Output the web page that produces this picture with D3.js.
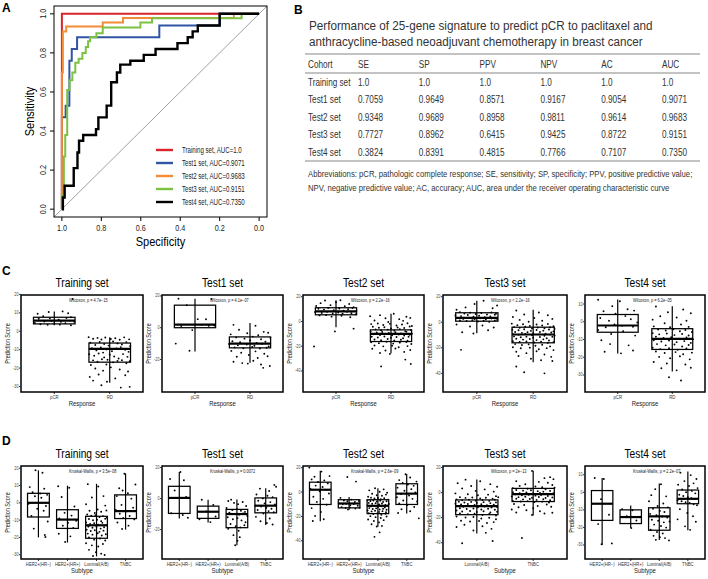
<!DOCTYPE html>
<html>
<head>
<meta charset="utf-8">
<script src="https://cdn.jsdelivr.net/npm/d3@7"></script>
<style>
body { margin: 0; background: #fff; }
svg { display: block; font-family: "Liberation Sans", Arial, sans-serif; }
</style>
</head>
<body>
<svg id="fig" width="708" height="579"></svg>
<script>
// ---------- panel A: ROC curves (specificity, sensitivity) ----------
const rocNames = ["Training set, AUC=1.0", "Test1 set, AUC=0.9071", "Test2 set, AUC=0.9683", "Test3 set, AUC=0.9151", "Test4 set, AUC=0.7350"];
const rocColors = ["#d9262a", "#2f55a4", "#f28c38", "#7cc242", "#000000"];
const rocTraining = [[1, 0], [1, 1], [0, 1]];
const rocTest1 = [[1, 0], [1, 0.47], [0.981, 0.53], [0.962, 0.76], [0.95, 0.82], [0.923, 0.88], [0.506, 0.94], [0.2, 1], [0, 1]];
const rocTest2 = [[1, 0], [1, 0.70], [0.995, 0.91], [0.978, 0.935], [0.793, 0.956], [0.69, 0.978], [0.128, 1], [0, 1]];
const rocTest3 = [[1, 0], [1, 0.07], [0.99, 0.27], [0.983, 0.38], [0.973, 0.61], [0.961, 0.66], [0.947, 0.70], [0.932, 0.75], [0.915, 0.77], [0.896, 0.80], [0.879, 0.83], [0.867, 0.86], [0.857, 0.88], [0.825, 0.90], [0.793, 0.93], [0.602, 0.955], [0.543, 0.977], [0.089, 1], [0, 1]];
const rocTest4 = [[1, 0], [0.995, 0.06], [0.986, 0.12], [0.94, 0.21], [0.921, 0.29], [0.913, 0.35], [0.892, 0.38], [0.827, 0.41], [0.815, 0.47], [0.773, 0.53], [0.75, 0.65], [0.721, 0.70], [0.704, 0.74], [0.653, 0.76], [0.585, 0.79], [0.525, 0.82], [0.414, 0.85], [0.362, 0.88], [0.337, 0.91], [0.311, 0.94], [0.2, 1], [0, 1]];
const rocTicks = [1.0, 0.8, 0.6, 0.4, 0.2, 0.0];

// ---------- panel B: table ----------
const tableTitle = ["Performance of 25-gene signature to predict pCR to  paclitaxel and", "anthracycline-based neoadjuvant chemotherapy in breast cancer"];
const tableCols = ["Cohort", "SE", "SP", "PPV", "NPV", "AC", "AUC"];
const tableRows = [
    ["Training set", "1.0", "1.0", "1.0", "1.0", "1.0", "1.0"],
    ["Test1 set", "0.7059", "0.9649", "0.8571", "0.9167", "0.9054", "0.9071"],
    ["Test2 set", "0.9348", "0.9689", "0.8958", "0.9811", "0.9614", "0.9683"],
    ["Test3 set", "0.7727", "0.8962", "0.6415", "0.9425", "0.8722", "0.9151"],
    ["Test4 set", "0.3824", "0.8391", "0.4815", "0.7766", "0.7107", "0.7350"]
];
const tableNotes = ["Abbreviations: pCR, pathologic complete response; SE, sensitivity; SP, specificity; PPV, positive predictive value;",
    "NPV, negative predictive value; AC, accuracy; AUC, area under the receiver operating characteristic curve"];

// ---------- panels C and D: boxplots ----------
const setTitles = ["Training set", "Test1 set", "Test2 set", "Test3 set", "Test4 set"];

const cGroups = ["pCR", "RD"];
const cPvals = ["Wilcoxon, p = 4.7e\u221215", "Wilcoxon, p = 4.1e\u221207", "Wilcoxon, p = 2.2e\u221216", "Wilcoxon, p < 2.2e\u221216", "Wilcoxon, p = 6.2e\u221205"];
const cDomains = [[-33, 19.7], [-40.5, 20.6], [-57, 21.4], [-54.6, 21.3], [-39.6, 15.1]];
const cTicks = [[20, 10, 0, -10, -20, -30], [20, 0, -20], [20, 0, -20, -40], [20, 0, -20, -40], [10, 0, -10, -20, -30]];
// [low whisker, q1, median, q3, high whisker]
const cStats = [
    [[3.3, 4.0, 5.8, 7.6, 10.8], [-28, -16.8, -9.6, -6.4, -3.2]],
    [[-15, 0, 2, 14.2, 18.3], [-22, -12.7, -10, -5.8, 3]],
    [[-4.6, 5.4, 8.1, 11.1, 17.2], [-25.7, -16.2, -10, -6.8, 6.3]],
    [[-8.6, 0.8, 3.4, 7.4, 16.8], [-31.3, -16.1, -9.6, -3.9, 9.7]],
    [[-17.9, -5.9, -2.1, 4.1, 12.6], [-28, -15.6, -9.6, -3.9, 8.8]]
];
// jittered points: [offset in group steps, score]
const cTrainPCR = [[-.3,9.5],[-.2,8.2],[-.1,10.5],[.15,10.8],[.25,9.8],[.33,17.5],[-.35,4.5],[-.25,3.8],[-.12,3.5],[0,4.2],[.1,3.6],[.2,4.4],[.3,3.3],[.36,5.2],[-.05,5.6],[.08,6.3],[-.28,6.8],[.22,7.2],[-.18,5.3],[.3,7.6],[-.08,7],[.12,5.1]];
const cTrainRD = [[-.38,-3.2],[-.3,-4.1],[-.22,-3.6],[-.15,-4.5],[-.08,-3.4],[.02,-4.2],[.1,-3.8],[.18,-4.6],[.26,-3.3],[.35,-4.4],[-.35,-6.2],[-.26,-7.5],[-.18,-5.8],[-.1,-6.9],[-.02,-7.8],[.06,-5.5],[.14,-6.6],[.22,-7.2],[.3,-5.9],[.37,-8.1],[-.32,-9.2],[-.24,-10.4],[-.16,-8.8],[-.06,-9.9],[.04,-10.8],[.12,-9.4],[.2,-8.6],[.28,-10.1],[.34,-11.2],[-.12,-11.6],[-.37,-12.5],[-.28,-13.3],[-.2,-12.1],[-.1,-14.2],[0,-12.8],[.08,-13.7],[.16,-14.8],[.24,-12.4],[.32,-13.9],[-.04,-15.5],[-.3,-15.8],[-.22,-16.6],[-.14,-15.2],[.06,-16.9],[.14,-16.1],[.22,-15.7],[.3,-17.4],[.36,-16.3],[-.34,-18.3],[-.06,-18.1],[-.26,-20.2],[-.12,-21.4],[.02,-19.6],[.18,-20.8],[.33,-21.9],[-.36,-24.8],[-.2,-23.5],[.1,-25.6],[.28,-23.9],[-.05,-27.4],[-.15,-29.3],[.2,-30.6],[.36,-30.2],[-.3,-26.8]];
const cTest1PCR = [[-.3,18.3],[.3,18.1],[-.15,14.2],[.05,5.4],[.2,5.3],[-.05,-1.5],[.35,1.4],[-.25,1],[.12,1.8],[-.35,-10],[-.1,-14.5],[.25,1.2]];
const cTest1RD = [[-.3,1.8],[.1,1.2],[-.2,-1.3],[.25,-2.6],[-.35,-4.2],[-.05,-3.5],[.15,-4.8],[.33,-3.2],[-.25,-6.1],[-.1,-6.9],[.05,-5.6],[.2,-7.3],[.37,-6.4],[-.32,-8.5],[-.18,-9.2],[0,-8.1],[.12,-9.6],[.28,-8.8],[-.38,-10.3],[-.22,-11.1],[-.06,-10.6],[.08,-11.4],[.22,-10.1],[.34,-11.8],[-.28,-12.4],[-.12,-12.9],[.04,-12.2],[.18,-13.1],[.3,-12.6],[-.34,-14.6],[-.16,-15.8],[.1,-14.9],[.26,-16.4],[-.24,-18.3],[-.02,-17.2],[.14,-19.1],[.32,-18],[-.3,-21.4],[-.14,-22.3],[.06,-20.8],[.2,-23.2],[-.04,-22.6],[.24,-25.3],[.36,-24.1]];
const cTest2PCR = [[-.36,12.5],[-.28,14.8],[-.2,16.9],[-.1,13.2],[0,15.5],[.08,17.2],[.16,12.4],[.24,14.1],[.32,11.6],[-.32,10.3],[-.22,9.6],[-.14,10.9],[-.04,9.1],[.06,10.5],[.14,8.8],[.22,9.9],[.3,10.8],[.37,8.4],[-.38,7.6],[-.26,6.9],[-.16,7.8],[-.06,6.5],[.04,7.3],[.12,6.2],[.2,7.9],[.28,6.7],[.36,5.8],[-.3,4.9],[-.18,5.2],[-.08,3.9],[.1,4.6],[.26,3.4],[-.02,-8],[.32,-5.8],[-.4,-20.2]];
const cTest2RD = [[-.38,4.2],[-.2,5.1],[.05,6.3],[.28,3.8],[-.1,2.6],[.15,1.9],[.35,2.9],[-.3,0.8],[-.05,-0.4],[.22,0.5],[-.36,-2.1],[-.24,-1.6],[-.14,-2.8],[-.02,-1.9],[.1,-3.2],[.2,-2.4],[.3,-1.4],[.38,-3.6],[-.33,-4.3],[-.22,-5.1],[-.12,-4.7],[0,-5.6],[.12,-4.9],[.24,-5.3],[.34,-4.1],[-.28,-6.4],[-.18,-7.1],[-.06,-6.6],[.06,-7.4],[.16,-6.2],[.26,-7.8],[.36,-6.9],[-.37,-8.2],[-.26,-8.9],[-.16,-8.5],[-.04,-9.3],[.08,-8.7],[.18,-9.6],[.28,-8.4],[.38,-9.9],[-.32,-10.4],[-.2,-10.9],[-.1,-10.2],[.02,-11.1],[.14,-10.6],[.24,-11.4],[.34,-10.8],[-.35,-12.3],[-.24,-12.9],[-.12,-12.1],[0,-13.2],[.1,-12.6],[.22,-13.5],[.32,-12.4],[-.3,-14.6],[-.18,-15.1],[-.06,-14.2],[.06,-15.4],[.18,-14.8],[.3,-15.6],[-.36,-16.8],[-.22,-17.5],[-.08,-16.4],[.04,-17.9],[.16,-17.1],[.28,-16.6],[.37,-18.2],[-.3,-19.4],[-.14,-20.1],[.02,-19.6],[.14,-20.8],[.3,-19.9],[-.34,-22.1],[-.1,-23.4],[.08,-21.8],[.24,-24.6],[-.2,-25.5],[.35,-23.1],[-.02,-26.2],[.26,-30.8],[-.18,-36.3],[.36,-34.3]];
const cTest3PCR = [[-.36,9.8],[-.2,11.6],[-.04,14.2],[.12,16.8],[.28,10.9],[.36,13.1],[-.3,7.9],[-.22,6.8],[-.12,7.5],[-.02,6.4],[.08,7.2],[.18,6.1],[.26,7.7],[.34,6.6],[-.38,5.3],[-.28,4.8],[-.16,5.6],[-.06,4.4],[.04,5.1],[.14,3.9],[.24,4.6],[.32,5.8],[-.34,3.2],[-.24,2.6],[-.14,3.6],[-.04,2.3],[.06,3.1],[.16,2.1],[.26,2.9],[.36,1.8],[-.3,1.3],[-.18,0.9],[-.08,1.6],[.02,0.6],[.12,1.1],[.22,0.4],[.32,1.4],[-.36,-1.8],[-.12,-3.4],[.1,-2.6],[.3,-4.1],[-.26,-7.9],[-.06,-8.8],[.2,-6.3],[-.28,-21.6]];
const cTest3RD = [[-.3,9.2],[.1,7.6],[-.16,6.1],[.26,5.4],[-.36,4.1],[.02,3.3],[.34,2.6],[-.24,1.8],[.16,1.2],[-.08,0.4],[-.38,-1.1],[-.28,-2.3],[-.18,-1.6],[-.06,-2.9],[.06,-1.8],[.16,-2.6],[.26,-1.3],[.36,-3.1],[-.34,-3.8],[-.24,-4.4],[-.14,-3.6],[-.02,-4.9],[.08,-4.1],[.2,-4.7],[.3,-3.9],[.38,-5.2],[-.37,-5.8],[-.26,-6.3],[-.16,-5.5],[-.04,-6.8],[.06,-6.1],[.18,-6.6],[.28,-5.7],[.36,-7.2],[-.32,-7.6],[-.2,-8.3],[-.1,-7.9],[0,-8.6],[.12,-7.7],[.22,-8.9],[.32,-8.1],[-.36,-9.3],[-.26,-9.8],[-.14,-9.1],[-.02,-10.2],[.1,-9.5],[.2,-10.6],[.3,-9.7],[.38,-10.4],[-.34,-11.1],[-.22,-11.8],[-.12,-11.3],[0,-12.2],[.12,-11.6],[.24,-12.5],[.34,-11.4],[-.3,-12.9],[-.18,-13.6],[-.06,-13.1],[.06,-14],[.18,-13.4],[.28,-14.3],[-.36,-14.8],[-.24,-15.5],[-.12,-15.1],[.02,-15.9],[.14,-15.3],[.26,-16.2],[.36,-15.6],[-.32,-17.1],[-.2,-17.8],[-.08,-17.3],[.04,-18.4],[.16,-17.6],[.3,-18.9],[-.36,-19.6],[-.22,-20.4],[-.06,-19.9],[.1,-21.1],[.24,-20.3],[.36,-21.8],[-.3,-23.1],[-.12,-24.2],[.06,-22.7],[.2,-25.3],[-.26,-26.4],[.32,-27.1],[-.04,-28.6],[.14,-29.8],[-.3,-34.7],[-.16,-39.1],[.2,-40],[.34,-30.4]];
const cTest4PCR = [[-.36,12.4],[.04,11.6],[-.1,8.8],[.18,7.1],[-.26,5.9],[.3,6.3],[-.04,4.6],[.14,3.2],[-.32,2.1],[.24,1.4],[-.16,0.6],[.36,-0.4],[-.06,-1.5],[.08,-2.3],[-.22,-3.1],[.28,-2.8],[-.36,-4.6],[.1,-5.3],[-.12,-6.9],[.32,-7.8],[-.3,-10.4],[-.14,-12.6],[.2,-13.3],[-.24,-16.9],[.06,-17.8],[.28,-16.2]];
const cTest4RD = [[-.3,8.6],[.2,6.9],[-.08,5.4],[.34,4.8],[-.22,3.1],[.08,2.4],[-.36,1.2],[.26,0.6],[-.14,-0.8],[.16,-1.5],[-.34,-2.6],[-.04,-3.1],[.3,-2.9],[-.26,-4.4],[-.12,-4.9],[.02,-4.2],[.14,-5.3],[.24,-4.6],[.36,-5.8],[-.36,-6.4],[-.24,-7.1],[-.1,-6.6],[.04,-7.5],[.18,-6.9],[.3,-7.7],[-.3,-8.4],[-.16,-9.1],[-.02,-8.7],[.12,-9.5],[.26,-8.9],[.38,-9.8],[-.34,-10.4],[-.2,-11.1],[-.06,-10.6],[.08,-11.5],[.22,-10.9],[.34,-11.9],[-.28,-12.6],[-.12,-13.3],[.04,-12.8],[.18,-13.9],[.3,-13.1],[-.36,-14.6],[-.22,-15.4],[-.06,-14.9],[.1,-15.8],[.26,-15.1],[-.3,-16.8],[-.14,-17.6],[.06,-17.1],[.2,-18.3],[.36,-17.4],[-.24,-19.8],[-.04,-20.6],[.14,-19.4],[.32,-21.2],[-.34,-22.7],[-.1,-23.5],[.24,-24.1],[-.2,-26.2],[.08,-27.4],[.34,-25.9],[-.06,-31.3],[.16,-33.1]];
const cPoints = [[cTrainPCR, cTrainRD], [cTest1PCR, cTest1RD], [cTest2PCR, cTest2RD], [cTest3PCR, cTest3RD], [cTest4PCR, cTest4RD]];

const dGroups4 = ["HER2+(HR\u2212)", "HER2+(HR+)", "Luminal(A/B)", "TNBC"];
const dGroups2 = ["Luminal(A/B)", "TNBC"];
const dGroups = [dGroups4, dGroups4, dGroups4, dGroups2, dGroups4];
const dPvals = ["Kruskal-Wallis, p = 3.5e\u221208", "Kruskal-Wallis, p = 0.0072", "Kruskal-Wallis, p = 2.6e\u221209", "Wilcoxon, p = 2e\u221213", "Kruskal-Wallis, p = 2.2e\u221207"];
const dDomains = [[-32.5, 21.3], [-39, 21], [-55, 21.4], [-53, 21.3], [-38, 15]];
const dTicks = [[20, 10, 0, -10, -20, -30], [20, 0, -20], [20, 0, -20, -40], [20, 0, -20, -40], [10, 0, -10, -20, -30]];
const dStats = [
    [[-20, -8.2, 0, 5.5, 18.8], [-23, -14.8, -9.7, -4, 9.9], [-31, -20.5, -13, -7.8, 11], [-15.5, -9.1, -4.8, 4.6, 17]],
    [[-12.8, -9.6, 0.4, 7.9, 17.2], [-15.5, -12.8, -8.5, -4.9, -0.7], [-30.2, -18.8, -10, -7, -0.6], [-17, -9.2, -4.6, 0.4, 6.7]],
    [[-24, -10.2, 1.9, 8.1, 17.6], [-14.5, -13, -9.4, -6.3, -4], [-28.5, -17.7, -11.3, -6.3, 3.2], [-17.7, -10.2, -1.3, 6.8, 14.9]],
    [[-32.6, -17.6, -10.8, -5.8, 10.5], [-18.2, -7.1, -1.1, 3.4, 17.6]],
    [[-30, -16, -6.5, 1, 8.1], [-20.3, -17.8, -14.1, -10, -7.5], [-27.2, -21.6, -13.7, -8.8, 5], [-21.6, -6.5, -3.7, 1.3, 11.8]]
];
const dTrainHN = [[-.1,18.8],[.14,17.4],[-.3,9.1],[.2,8.2],[-.2,6.1],[.06,5.4],[.3,4.6],[-.12,3.8],[.1,2.9],[-.34,-0.6],[.26,-1.8],[-.04,-3.4],[.18,-4.6],[-.24,-7.6],[.32,-10.8],[-.16,-14.9],[.22,-18.6],[.24,-19.8]];
const dTrainHP = [[-.32,9.6],[.06,8.7],[-.2,3.4],[.24,-2.1],[-.1,-5.8],[.14,-7.4],[-.28,-9.1],[.3,-10.4],[.02,-11.6],[-.16,-13.2],[.2,-14.6],[-.3,-17.9],[.1,-19.4],[-.08,-22.6]];
const dTrainLum = [[-.3,10.8],[.06,9.4],[.24,3.9],[-.16,3.1],[-.36,-0.8],[.3,-1.6],[.04,-3.9],[-.24,-4.6],[.16,-5.2],[-.06,-5.9],[.34,-4.4],[-.32,-6.8],[-.18,-7.4],[-.04,-7.1],[.1,-8.2],[.22,-7.7],[.36,-8.6],[-.26,-9.4],[-.12,-10.1],[.02,-9.8],[.16,-10.6],[.3,-9.2],[-.36,-11.4],[-.22,-12.2],[-.08,-11.8],[.06,-12.7],[.2,-11.6],[.34,-12.9],[-.28,-13.8],[-.14,-14.4],[0,-13.9],[.14,-14.9],[.26,-14.1],[-.34,-15.6],[-.2,-16.3],[-.06,-15.9],[.1,-16.8],[.24,-16.1],[-.3,-17.8],[-.14,-18.4],[.04,-17.6],[.18,-18.9],[.32,-18.2],[-.26,-20.1],[-.08,-21.3],[.12,-20.6],[.3,-21.8],[-.36,-23.4],[-.16,-24.6],[.06,-25.3],[.22,-23.8],[-.26,-27.2],[-.02,-28.6],[.16,-29.4],[-.12,-30.8],[.28,-30.2]];
const dTrainTN = [[-.04,16.8],[.34,10.6],[-.22,8.4],[-.1,7.1],[.08,5.6],[-.3,3.9],[.2,2.4],[-.14,-1.2],[.26,-2.8],[-.34,-4.1],[.04,-4.9],[-.2,-6.3],[.14,-7.6],[-.08,-8.8],[.3,-9.6],[-.28,-11.4],[.1,-13.2],[-.12,-15.1]];
const dTest1HN = [[-.32,12.6],[.04,17.1],[.16,11.8],[-.16,5.2],[.24,1.1],[-.06,0.3],[-.28,-9.5],[.12,-10.6],[.3,-12.4]];
const dTest1HP = [[-.22,-0.8],[.18,-4.2],[-.06,-8.3],[.26,-11.6],[-.3,-13.4],[.08,-15.2]];
const dTest1Lum = [[-.2,-0.7],[-.3,-1.6],[-.1,-2.8],[.04,-3.6],[.2,-2.2],[.32,-4.8],[-.36,-6.1],[-.16,-7.4],[0,-6.8],[.14,-7.9],[.28,-8.6],[-.26,-9.1],[-.08,-9.9],[.08,-10.4],[.22,-9.6],[.36,-11.2],[-.32,-12.1],[-.14,-13.4],[.02,-12.6],[.16,-14.1],[.3,-15.3],[-.22,-16.4],[-.04,-17.8],[.12,-18.6],[.26,-17.2],[-.3,-19.5],[.06,-20.8],[-.12,-23.6],[.1,-24.9],[.02,-27.2],[-.06,-30.1]];
const dTest1TN = [[.3,8.8],[.36,7.6],[-.2,6.4],[.12,4.9],[-.32,2.6],[.06,1.8],[.24,0.9],[-.1,0.1],[-.26,-1.4],[.16,-2.3],[-.04,-3.1],[.32,-3.8],[-.36,-4.6],[-.16,-5.2],[.02,-5.9],[.2,-6.6],[-.28,-7.4],[.1,-8.1],[.28,-8.8],[-.08,-9.6],[-.34,-11.8],[.14,-12.9],[-.18,-14.6],[.04,-15.8],[.24,-16.7]];
const dTest2HN = [[-.38,20.1],[.04,16.8],[-.2,12.6],[.32,13.1],[-.3,10.4],[.14,9.6],[-.08,8.2],[.26,7.1],[-.16,5.3],[.08,4.1],[-.34,2.6],[.2,1.8],[-.02,0.6],[.3,-1.2],[-.24,-3.9],[.1,-5.6],[-.12,-8.1],[.22,-10.4],[-.3,-13.2],[.02,-16.4],[-.18,-19.6],[.12,-22.3],[-.26,-23.8]];
const dTest2HP = [[-.06,12.4],[.24,8.6],[-.3,-4.8],[-.18,-6.9],[-.06,-7.6],[.08,-6.2],[.2,-8.1],[.34,-7.3],[-.36,-9.4],[-.22,-10.1],[-.1,-9.6],[.04,-10.8],[.16,-9.9],[.3,-11.2],[-.26,-12.4],[-.12,-13.1],[.02,-12.6],[.22,-13.6],[.36,-12.9],[-.04,-14.4]];
const dTest2Lum = [[-.1,3.1],[.2,2.2],[-.3,1.4],[.06,0.3],[.32,-0.6],[-.2,-1.4],[-.04,-2.6],[.14,-3.1],[.28,-2.1],[-.34,-3.8],[-.24,-4.6],[-.12,-5.3],[0,-4.9],[.1,-5.8],[.22,-5.1],[.36,-6.2],[-.36,-6.8],[-.26,-7.4],[-.16,-6.9],[-.04,-7.8],[.08,-7.2],[.18,-8.1],[.3,-7.6],[-.32,-8.9],[-.2,-9.6],[-.08,-9.1],[.04,-10.2],[.14,-9.4],[.26,-10.6],[.38,-9.8],[-.36,-11.1],[-.24,-11.8],[-.12,-11.4],[0,-12.3],[.12,-11.7],[.24,-12.6],[.34,-11.2],[-.3,-13.2],[-.18,-13.9],[-.06,-13.4],[.06,-14.3],[.18,-13.7],[.3,-14.6],[-.36,-15.2],[-.22,-15.9],[-.1,-15.4],[.04,-16.3],[.16,-15.7],[.28,-16.6],[-.32,-17.4],[-.16,-18.1],[-.02,-17.6],[.12,-18.6],[.26,-17.9],[-.26,-19.8],[-.08,-20.6],[.1,-21.3],[.3,-20.1],[-.34,-22.6],[-.14,-23.8],[.04,-24.9],[.2,-23.1],[-.22,-26.4],[.14,-27.8],[-.04,-28.3],[.06,-33.1],[-.12,-36.8]];
const dTest2TN = [[-.04,14.6],[.12,11.9],[-.26,9.8],[.34,8.6],[-.14,7.4],[.04,6.2],[.24,5.1],[-.32,3.6],[.16,2.4],[-.08,1.1],[.3,-0.4],[-.2,-1.6],[.08,-2.8],[-.34,-4.3],[.2,-5.6],[-.12,-6.9],[.36,-7.8],[-.26,-9.4],[.02,-10.6],[.26,-12.3],[-.18,-14.1],[.12,-15.8],[-.3,-17.2],[.42,-21.6]];
const dTest3Lum = [[-.2,10.4],[.06,9.1],[-.34,7.6],[.24,6.8],[-.1,5.3],[.36,4.7],[-.26,3.4],[.14,2.6],[-.02,1.4],[.3,0.8],[-.38,-0.6],[-.16,-1.3],[.02,-2.1],[.2,-1.6],[.34,-2.8],[-.3,-3.6],[-.2,-4.2],[-.08,-3.9],[.06,-4.6],[.16,-4.1],[.28,-4.9],[.38,-3.7],[-.36,-5.4],[-.26,-6.1],[-.14,-5.7],[-.02,-6.4],[.1,-5.9],[.22,-6.6],[.32,-5.6],[-.32,-7.2],[-.22,-7.9],[-.1,-7.4],[0,-8.2],[.12,-7.6],[.24,-8.4],[.34,-7.8],[-.38,-8.9],[-.28,-9.5],[-.16,-9.1],[-.04,-9.8],[.08,-9.3],[.18,-10.1],[.3,-9.6],[-.34,-10.6],[-.24,-11.3],[-.12,-10.9],[.02,-11.6],[.14,-11.1],[.26,-11.9],[.36,-11.4],[-.3,-12.4],[-.18,-13.1],[-.06,-12.7],[.08,-13.4],[.2,-12.9],[.32,-13.7],[-.36,-14.3],[-.26,-15.1],[-.12,-14.6],[0,-15.4],[.12,-14.9],[.24,-15.8],[.36,-15.2],[-.3,-16.6],[-.16,-17.3],[-.04,-16.9],[.1,-17.8],[.22,-17.1],[.34,-18.2],[-.36,-19.1],[-.2,-19.8],[-.06,-19.4],[.08,-20.6],[.22,-20.1],[.34,-21.3],[-.28,-22.4],[-.12,-23.1],[.04,-22.6],[.18,-24.2],[.3,-23.5],[-.22,-25.6],[.1,-26.8],[-.36,-27.4],[.26,-28.9],[-.06,-30.2],[.16,-32.1],[-.26,-40.4],[.28,-38.6]];
const dTest3TN = [[-.02,17.4],[.3,12.4],[.36,10.8],[.2,11.6],[-.3,9.2],[.1,8.6],[.26,7.9],[-.14,6.7],[.34,6.1],[-.24,5.4],[.04,4.9],[.16,4.3],[-.36,3.6],[-.1,3.1],[.22,2.7],[.38,3.9],[-.3,2.1],[-.18,1.6],[-.04,1.9],[.08,1.2],[.18,0.8],[.3,1.4],[-.36,0.3],[-.24,-0.4],[-.12,0.1],[0,-0.7],[.12,-0.2],[.24,-0.9],[.36,-0.5],[-.32,-1.4],[-.2,-2.1],[-.08,-1.7],[.04,-2.4],[.14,-1.9],[.26,-2.7],[-.38,-3.1],[-.26,-3.6],[-.14,-3.3],[-.02,-4.1],[.1,-3.5],[.22,-4.3],[.34,-3.8],[-.3,-4.9],[-.18,-5.4],[-.06,-5.1],[.06,-5.8],[.18,-5.3],[.3,-6.1],[-.36,-6.6],[-.22,-7.1],[-.1,-6.8],[.02,-7.6],[.16,-7.2],[.28,-7.9],[-.34,-9.1],[-.16,-9.8],[.08,-10.6],[.24,-9.4],[-.26,-11.6],[0,-12.4],[.32,-11.2],[-.38,-13.4],[-.12,-14.1],[.12,-14.9],[-.3,-15.8],[.2,-16.6],[-.02,-17.8],[.34,-16.1],[-.2,-36.2]];
const dTest4HN = [[-.26,8.2],[.06,7.6],[-.04,-3.9],[.24,-12.8],[-.14,-18.1],[-.02,-29.6],[.34,-29.1]];
const dTest4HP = [[-.3,-9.6],[.06,-10.2],[-.14,-13.6],[.2,-16.1],[.02,-20.4]];
const dTest4Lum = [[.06,4.6],[-.14,1.8],[-.28,-1.6],[.24,-2.3],[-.36,-5.1],[.14,-6.4],[-.06,-7.8],[.3,-8.6],[-.22,-9.4],[.02,-10.6],[.18,-11.2],[-.32,-12.3],[-.1,-13.1],[.1,-13.8],[.28,-14.4],[-.26,-15.6],[-.04,-16.2],[.16,-17.1],[.36,-16.6],[-.18,-18.4],[.06,-19.2],[.24,-20.1],[-.3,-21.3],[-.08,-22.6],[.12,-23.4],[-.2,-24.8],[.02,-25.6],[.2,-26.1],[-.12,-27.1],[.34,-27.4]];
const dTest4TN = [[-.26,11.2],[.1,9.8],[.3,7.6],[-.12,6.4],[.2,5.1],[-.34,4.3],[.04,3.6],[.34,2.4],[-.2,1.6],[.14,0.8],[-.06,0.1],[.26,-0.6],[-.3,-1.4],[-.16,-2.1],[0,-2.8],[.12,-3.4],[.24,-3.9],[-.36,-4.6],[-.22,-5.1],[-.08,-5.6],[.06,-6.1],[.2,-6.8],[.32,-7.4],[-.28,-9.6],[-.02,-11.8],[.18,-13.6],[-.36,-15.4],[.28,-16.8],[-.1,-19.4],[.08,-21.4]];
const dPoints = [[dTrainHN, dTrainHP, dTrainLum, dTrainTN], [dTest1HN, dTest1HP, dTest1Lum, dTest1TN], [dTest2HN, dTest2HP, dTest2Lum, dTest2TN], [dTest3Lum, dTest3TN], [dTest4HN, dTest4HP, dTest4Lum, dTest4TN]];

const svg = d3.select("#fig");

// text helper: the figure's type is horizontally condensed, so each label gets its own x-scale;
// with o.len the scale is measured so the text spans exactly that width
function txt(g, x, y, s, o) {
    o = o || {};
    const t = g.append("text")
        .attr("font-size", o.size || 10)
        .attr("text-anchor", o.anchor || "start")
        .attr("fill", o.fill || "#000")
        .text(s);
    if (o.weight) t.attr("font-weight", o.weight);
    let sx = o.sx || 1;
    if (o.len) sx = o.len / t.node().getComputedTextLength();
    t.attr("transform", "translate(" + x + "," + y + ")" + (o.rot ? " rotate(" + o.rot + ")" : "") + " scale(" + sx + ",1)");
    return t;
}

// ================= A =================
txt(svg, 2, 12, "A", {size: 12, weight: "bold"});
const ax = d3.scaleLinear().domain([1.04, -0.04]).range([54, 267]);
const ay = d3.scaleLinear().domain([-0.04, 1.04]).range([217, 6]);
const gA = svg.append("g");
gA.append("clipPath").attr("id", "clipA").append("rect")
    .attr("x", 54).attr("y", 6).attr("width", 213).attr("height", 211);
gA.append("line")
    .attr("clip-path", "url(#clipA)")
    .attr("x1", ax(1.04)).attr("y1", ay(-0.04)).attr("x2", ax(-0.04)).attr("y2", ay(1.04))
    .attr("stroke", "#a0a0a0").attr("stroke-width", 1);
const rocLine = d3.line().x(d => ax(d[0])).y(d => ay(d[1])).curve(d3.curveStepAfter);
[rocTraining, rocTest1, rocTest2, rocTest3, rocTest4].forEach((c, i) => {
    gA.append("path").datum(c)
        .attr("d", rocLine)
        .attr("fill", "none")
        .attr("stroke", rocColors[i])
        .attr("stroke-width", i == 4 ? 2.4 : 2);
});
gA.append("rect").attr("x", 54).attr("y", 6).attr("width", 213).attr("height", 211)
    .attr("fill", "none").attr("stroke", "#000").attr("stroke-width", 1);
rocTicks.forEach(t => {
    gA.append("line").attr("x1", ax(t)).attr("x2", ax(t)).attr("y1", 217).attr("y2", 221).attr("stroke", "#000");
    txt(gA, ax(t), 231, t.toFixed(1), {size: 8.5, anchor: "middle", sx: 0.85, fill: "#222"});
    gA.append("line").attr("x1", 50).attr("x2", 54).attr("y1", ay(t)).attr("y2", ay(t)).attr("stroke", "#000");
    txt(gA, 46, ay(t), t.toFixed(1), {size: 8.5, anchor: "middle", rot: -90, sx: 0.85, fill: "#222"});
});
txt(gA, 34, ay(0.5), "Sensitivity", {size: 13, anchor: "middle", rot: -90, sx: 0.85});
txt(gA, ax(0.5), 246, "Specificity", {size: 13, anchor: "middle", sx: 0.85});
rocNames.forEach((n, i) => {
    const y = 150 + i * 13;
    gA.append("line").attr("x1", 156).attr("x2", 173).attr("y1", y).attr("y2", y)
        .attr("stroke", rocColors[i]).attr("stroke-width", 2.4);
    txt(gA, 182, y + 3, n, {size: 9, sx: 0.68, fill: "#222"});
});

// ================= B =================
const gB = svg.append("g");
txt(gB, 294, 14, "B", {size: 12, weight: "bold"});
txt(gB, 309, 30, tableTitle[0], {size: 13.5, len: 344, fill: "#333"});
txt(gB, 309, 46, tableTitle[1], {size: 13.5, len: 334, fill: "#333"});
const colX = d3.scalePoint().domain(tableCols.slice(1)).range([358, 662]);
const rowY = d3.scalePoint().domain(tableRows.map(r => r[0])).range([82, 152]);
[54, 73, 161].forEach(y => {
    gB.append("line").attr("x1", 305).attr("x2", 700).attr("y1", y).attr("y2", y)
        .attr("stroke", "#888").attr("stroke-width", 1.2);
});
tableCols.forEach((c, i) => {
    txt(gB, i == 0 ? 308 : colX(c), 67.5, c, {size: 10, sx: 0.82, fill: "#333"});
});
tableRows.forEach(r => {
    r.forEach((v, i) => {
        txt(gB, i == 0 ? 308 : colX(tableCols[i]), rowY(r[0]) + 3.5, v, {size: 10, sx: 0.82, fill: "#333"});
    });
});
txt(gB, 308, 177, tableNotes[0], {size: 8.5, len: 385, fill: "#333"});
txt(gB, 308, 191, tableNotes[1], {size: 8.5, len: 362, fill: "#333"});

// ================= C and D =================
const frameX = [[21, 143], [162, 283], [303, 424], [443, 567], [585, 705]];

function boxPanel(left, right, top, bottom, title, groups, domain, ticks, stats, points, pval, xTitle) {
    const g = svg.append("g");
    const x = d3.scalePoint().domain(groups).range([left, right]).padding(0.6);
    const y = d3.scaleLinear().domain(domain).range([bottom, top]);
    const step = x.step();
    const bw = step * 0.75;
    txt(g, (left + right) / 2, top - 8, title, {size: 12.5, anchor: "middle", sx: 0.82});
    groups.forEach((grp, i) => {
        const s = stats[i], cx = x(grp);
        g.append("line").attr("x1", cx).attr("x2", cx).attr("y1", y(s[0])).attr("y2", y(s[4]))
            .attr("stroke", "#000").attr("stroke-width", 1.2);
        g.append("rect").attr("x", cx - bw / 2).attr("y", y(s[3])).attr("width", bw).attr("height", y(s[1]) - y(s[3]))
            .attr("fill", "none").attr("stroke", "#000").attr("stroke-width", 1.25);
        g.append("line").attr("x1", cx - bw / 2).attr("x2", cx + bw / 2).attr("y1", y(s[2])).attr("y2", y(s[2]))
            .attr("stroke", "#000").attr("stroke-width", 2.2);
        g.selectAll(null).data(points[i]).enter().append("circle")
            .attr("cx", d => cx + d[0] * step)
            .attr("cy", d => y(d[1]))
            .attr("r", 0.95)
            .attr("fill", "#000");
        g.append("line").attr("x1", cx).attr("x2", cx).attr("y1", bottom).attr("y2", bottom + 2).attr("stroke", "#333");
        txt(g, cx, bottom + 6.5, grp, {size: 5, anchor: "middle", sx: 0.85, fill: "#333"});
    });
    g.append("rect").attr("x", left).attr("y", top).attr("width", right - left).attr("height", bottom - top)
        .attr("fill", "none").attr("stroke", "#000").attr("stroke-width", 1.5);
    ticks.forEach(t => {
        g.append("line").attr("x1", left - 2).attr("x2", left).attr("y1", y(t)).attr("y2", y(t)).attr("stroke", "#333");
        txt(g, left - 2.5, y(t) + 1.5, t, {size: 4.5, anchor: "end", sx: 0.85, fill: "#444"});
    });
    txt(g, left - 11, (top + bottom) / 2, "Prediction Score", {size: 6.5, anchor: "middle", rot: -90, sx: 0.85, fill: "#222"});
    txt(g, (left + right) / 2, bottom + 13.5, xTitle, {size: 7, anchor: "middle", sx: 0.85, fill: "#222"});
    txt(g, left + 48, top + 6.5, pval, {size: 4.6, sx: 0.85, fill: "#222"});
}

txt(svg, 2, 275, "C", {size: 12, weight: "bold"});
setTitles.forEach((t, i) => {
    boxPanel(frameX[i][0], frameX[i][1], 295, 392, t, cGroups, cDomains[i], cTicks[i], cStats[i], cPoints[i], cPvals[i], "Response");
});
txt(svg, 2, 445, "D", {size: 12, weight: "bold"});
setTitles.forEach((t, i) => {
    boxPanel(frameX[i][0], frameX[i][1], 466, 559, t, dGroups[i], dDomains[i], dTicks[i], dStats[i], dPoints[i], dPvals[i], "Subtype");
});
</script>
</body>
</html>
